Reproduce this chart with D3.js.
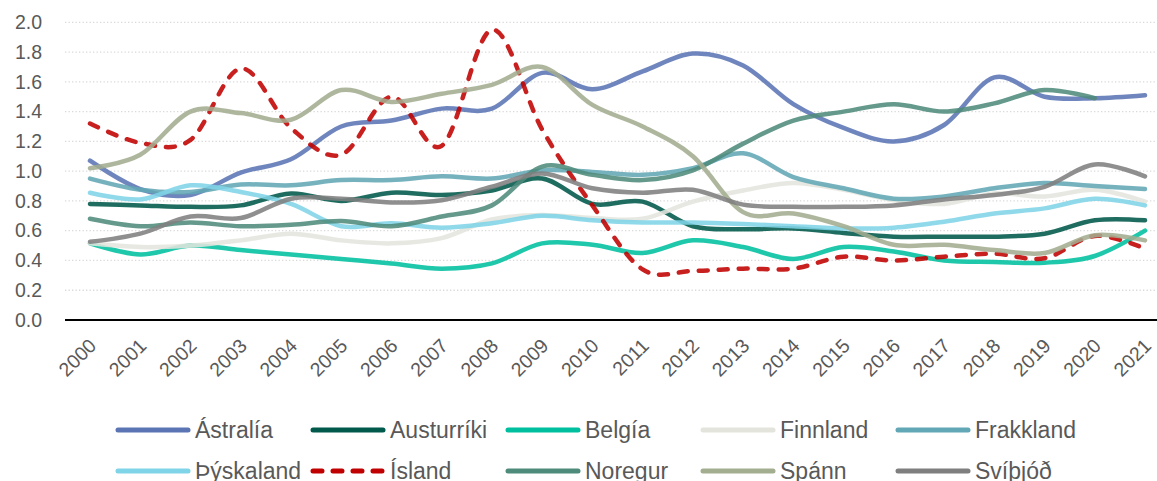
<!DOCTYPE html>
<meta charset="utf-8">
<head>
  <title>Chart</title>
  <script src="https://cdnjs.cloudflare.com/ajax/libs/d3/7.8.5/d3.min.js"></script>
  <style>
    body { margin: 0; background: #fff; }
    text { font-family: "Liberation Sans", Arial, sans-serif; fill: #595959; }
  </style>
</head>
<body>
<div id="chart"></div>
<script>
  var years = ['2000','2001','2002','2003','2004','2005','2006','2007','2008','2009','2010',
               '2011','2012','2013','2014','2015','2016','2017','2018','2019','2020','2021']
  var yTicks = [0, 0.2, 0.4, 0.6, 0.8, 1.0, 1.2, 1.4, 1.6, 1.8, 2.0]

  var names = ['Ástralía','Austurríki','Belgía','Finnland','Frakkland',
               'Þýskaland','Ísland','Noregur','Spánn','Svíþjóð']

  var astralia   = [1.07,0.88,0.84,0.99,1.08,1.30,1.34,1.42,1.42,1.66,1.55,1.67,1.79,1.71,1.45,1.29,1.20,1.31,1.63,1.50,1.49,1.51]
  var austurriki = [0.78,0.77,0.76,0.77,0.85,0.80,0.855,0.84,0.87,0.95,0.78,0.795,0.63,0.61,0.615,0.585,0.56,0.56,0.56,0.58,0.67,0.67]
  var belgia     = [0.515,0.44,0.50,0.47,0.44,0.41,0.38,0.345,0.38,0.515,0.505,0.45,0.535,0.49,0.41,0.49,0.46,0.40,0.39,0.385,0.43,0.60]
  var finnland   = [0.515,0.49,0.50,0.535,0.58,0.535,0.515,0.55,0.675,0.705,0.685,0.68,0.795,0.87,0.92,0.875,0.805,0.78,0.85,0.83,0.875,0.795]
  var frakkland  = [0.95,0.875,0.86,0.91,0.905,0.94,0.94,0.965,0.95,1.005,0.995,0.975,1.02,1.12,0.96,0.885,0.815,0.83,0.885,0.92,0.90,0.88]
  var thyskaland = [0.855,0.81,0.905,0.86,0.78,0.63,0.65,0.62,0.65,0.70,0.67,0.655,0.655,0.645,0.63,0.615,0.62,0.66,0.715,0.75,0.815,0.77]
  var island     = [1.32,1.19,1.21,1.69,1.29,1.11,1.50,1.17,1.95,1.28,0.77,0.34,0.33,0.345,0.345,0.425,0.40,0.425,0.445,0.415,0.565,0.48]
  var noregur    = [0.68,0.63,0.655,0.63,0.64,0.665,0.63,0.695,0.77,1.03,0.975,0.94,1.005,1.185,1.34,1.40,1.45,1.40,1.455,1.545,1.49,null]
  var spann      = [1.02,1.11,1.40,1.39,1.345,1.545,1.465,1.52,1.58,1.70,1.445,1.30,1.10,0.725,0.715,0.63,0.505,0.505,0.47,0.45,0.57,0.535]
  var svithjod   = [0.525,0.58,0.695,0.685,0.815,0.815,0.79,0.805,0.895,0.985,0.885,0.855,0.875,0.775,0.76,0.76,0.77,0.81,0.84,0.895,1.045,0.965]

  var seriesValues = [astralia, austurriki, belgia, finnland, frakkland,
                      thyskaland, island, noregur, spann, svithjod]
  var colors = ['#5B74B4','#00594A','#00BF9F','#E3E5DD','#62A7B5',
                '#80D4E7','#C00000','#4E8B7B','#A3AD8F','#7F7F7F']

  var WIDTH = 1157
  var HEIGHT = 481

  var svg = d3.select('#chart').append('svg')
    .attr('width', WIDTH)
    .attr('height', HEIGHT)

  var x = d3.scalePoint().domain(years).range([90, 1145])
  var y = d3.scaleLinear().domain([0, 2]).range([320, 22.3])

  // dotted gridlines
  svg.append('g').selectAll('line')
    .data(yTicks.filter(function(d) { return d > 0 }))
    .enter().append('line')
    .attr('x1', 65).attr('x2', WIDTH)
    .attr('y1', function(d) { return y(d) })
    .attr('y2', function(d) { return y(d) })
    .attr('stroke', '#D9D9D9')
    .attr('stroke-width', 1.3)
    .attr('stroke-dasharray', '1.3,2.2')

  // y axis labels
  var yAxis = d3.axisLeft(y).tickValues(yTicks).tickFormat(d3.format('.1f')).tickSize(0).tickPadding(0)
  var gy = svg.append('g').attr('transform', 'translate(42,0)').call(yAxis)
  gy.select('.domain').remove()
  gy.selectAll('text').style('font-size', '19.5px').attr('fill', '#595959')

  // x axis labels, rotated
  var xAxis = d3.axisBottom(x).tickSize(0).tickPadding(0)
  var gx = svg.append('g').attr('transform', 'translate(0,320)').call(xAxis)
  gx.select('.domain').remove()
  gx.selectAll('text')
    .style('font-size', '19.5px')
    .attr('fill', '#595959')
    .attr('text-anchor', 'end')
    .attr('dy', null)
    .attr('y', 0)
    .attr('transform', 'translate(7,27) rotate(-45)')

  // lines
  var line = d3.line()
    .defined(function(d) { return d != null })
    .x(function(d, i) { return x(years[i]) })
    .y(function(d) { return y(d) })
    .curve(d3.curveCardinal.tension(0))

  svg.append('g').selectAll('path')
    .data(seriesValues)
    .enter().append('path')
    .attr('d', function(d) { return line(d) })
    .attr('fill', 'none')
    .attr('stroke', function(d, i) { return colors[i] })
    .attr('stroke-width', 4.5)
    .attr('stroke-opacity', 0.88)
    .attr('stroke-linecap', 'round')
    .attr('stroke-dasharray', function(d, i) { return names[i] === 'Ísland' ? '9,11' : null })

  // axis baseline
  svg.append('line')
    .attr('x1', 65).attr('x2', WIDTH)
    .attr('y1', y(0)).attr('y2', y(0))
    .attr('stroke', '#000')
    .attr('stroke-width', 2)

  // legend, 5 per row
  var legend = svg.append('g').selectAll('g')
    .data(names)
    .enter().append('g')
    .attr('transform', function(d, i) {
      return 'translate(' + (118 + (i % 5) * 195) + ',' + (430 + Math.floor(i / 5) * 41) + ')'
    })

  legend.append('line')
    .attr('x1', 0).attr('x2', 70)
    .attr('stroke', function(d, i) { return colors[i] })
    .attr('stroke-width', 5)
    .attr('stroke-linecap', 'round')
    .attr('stroke-dasharray', function(d) { return d === 'Ísland' ? '9,11' : null })

  legend.append('text')
    .attr('x', 77)
    .attr('dy', '0.35em')
    .style('font-size', '23px')
    .text(function(d) { return d })
</script>
</body>
